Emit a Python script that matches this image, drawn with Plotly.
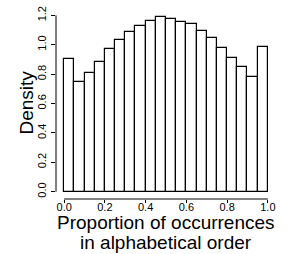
import plotly.graph_objects as go

# Data: histogram densities (20 bins of width 0.05 over [0, 1])
bin_start = 0.0
bin_width = 0.05
density = [0.90, 0.745, 0.805, 0.885, 0.972, 1.032, 1.085, 1.127, 1.164, 1.188,
           1.172, 1.158, 1.142, 1.094, 1.044, 0.980, 0.910, 0.848, 0.780, 0.985]
x_ticks = [0.0, 0.2, 0.4, 0.6, 0.8, 1.0]
y_ticks = [0.0, 0.2, 0.4, 0.6, 0.8, 1.0, 1.2]
x_title_lines = ["Proportion of occurrences", "in alphabetical order"]
y_title = "Density"

centers = [bin_start + bin_width * (i + 0.5) for i in range(len(density))]

FONT = "Liberation Sans, Arial, Helvetica, sans-serif"
W, H = 287, 254
L, R, T, B = 56, 11, 8, 55
PW, PH = W - L - R, H - T - B


def px_to_paper_x(px):
    return (px - L) / PW


def px_to_paper_y(py):
    return (H - B - py) / PH


fig = go.Figure(
    go.Bar(
        x=centers,
        y=density,
        width=bin_width,
        marker=dict(color="white", line=dict(color="black", width=1.2)),
        showlegend=False,
        hoverinfo="skip",
    )
)

fig.update_layout(
    width=W,
    height=H,
    margin=dict(l=L, r=R, t=T, b=B, autoexpand=False),
    paper_bgcolor="white",
    plot_bgcolor="white",
    font=dict(family=FONT, color="black"),
    bargap=0,
)

fig.update_xaxes(
    range=[-0.04, 1.04],
    tickvals=x_ticks,
    ticktext=[f"{v:.1f}" for v in x_ticks],
    ticks="outside",
    ticklen=3,
    tickwidth=1,
    tickcolor="black",
    ticklabelstandoff=-5,
    ticklabeloverflow="allow",
    tickfont=dict(size=11, family=FONT, color="black"),
    showline=False,
    showgrid=False,
    zeroline=False,
)
fig.update_yaxes(
    range=[-0.05, 1.25],
    tickvals=y_ticks,
    ticktext=[f"{v:.1f}" for v in y_ticks],
    tickangle=-90,
    ticks="outside",
    ticklen=4,
    tickwidth=1,
    tickcolor="black",
    ticklabelstandoff=1,
    ticklabeloverflow="allow",
    tickfont=dict(size=11, family=FONT, color="black"),
    showline=False,
    showgrid=False,
    zeroline=False,
)

# R-style detached axis lines spanning only the tick range
fig.add_shape(type="line", xref="x", yref="paper", x0=x_ticks[0], x1=x_ticks[-1], y0=0, y1=0,
              line=dict(color="black", width=1))
fig.add_shape(type="line", xref="paper", yref="y", x0=0, x1=0, y0=y_ticks[0], y1=y_ticks[-1],
              line=dict(color="black", width=1))

# Axis titles (R style, tight line spacing)
title_font = dict(size=19, family=FONT, color="black")
for line_text, py in zip(x_title_lines, [222, 242]):
    fig.add_annotation(text=line_text, xref="x", yref="paper", x=0.5, y=px_to_paper_y(py),
                       xanchor="center", yanchor="middle", showarrow=False, font=title_font)
fig.add_annotation(text=y_title, xref="paper", yref="paper", x=px_to_paper_x(25.5),
                   y=px_to_paper_y(103), xanchor="center", yanchor="middle", textangle=-90,
                   showarrow=False, font=title_font)

# Remove the browser's default 8px body margin so the figure fills the window exactly
fig.write_html("out.html", config={"displayModeBar": False},
               post_script="document.body.style.margin='0px';")
